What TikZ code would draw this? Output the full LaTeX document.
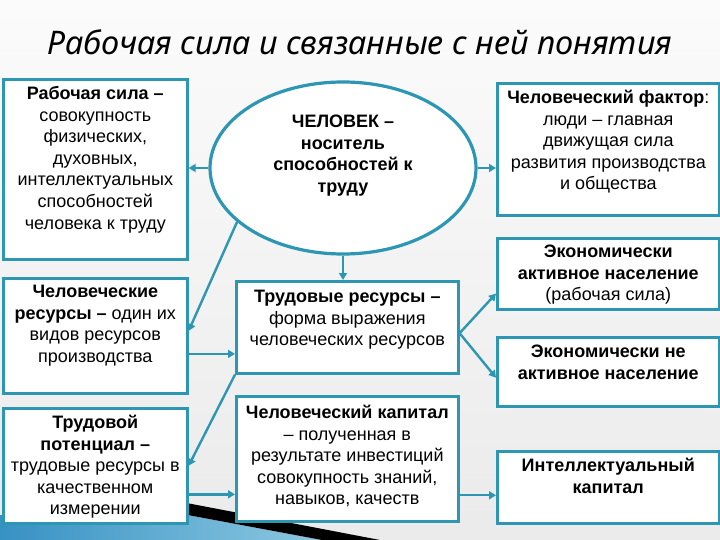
\documentclass[tikz,border=0pt]{standalone}
\usepackage{fontspec}
\setmainfont{Liberation Sans}
\newfontfamily\titlefont{Noto Sans}
\usepackage{tikz}
\usetikzlibrary{positioning,arrows.meta,shapes.geometric}

\definecolor{frame}{RGB}{45,150,178}
\definecolor{swoosh}{RGB}{55,145,195}
\definecolor{swooshlight}{RGB}{140,200,225}

\tikzset{
  box/.style={draw=frame, line width=2.6pt, fill=white, anchor=north west},
  txt/.style={align=center, inner sep=0pt, font=\fontsize{18}{21.6}\selectfont},
  arr/.style={draw=frame, line width=2.4pt, -{Triangle[length=7pt,width=8pt]}}
}

\begin{document}
\begin{tikzpicture}[x=1pt,y=-1pt]
    \useasboundingbox (0,0) rectangle (720,540);
    \shade[top color=white!97!gray, bottom color=gray!16] (0,0) rectangle (720,540);
    \shade[left color=swoosh, right color=swooshlight] (0,515) -- (187,515) -- (322,540) -- (0,540) -- cycle;
    \fill[black] (150,496) -- (380,540) -- (322,540) -- (150,508) -- cycle;

    \node[font=\titlefont\itshape\fontsize{32.5}{38}\selectfont, anchor=base] (title) at (360,55) {Рабочая сила и связанные с ней понятия};

    \node[box, minimum width=184pt, minimum height=180pt] (rsila) at (2,78) {};
    \node[box, minimum width=184pt, minimum height=115pt] (chres) at (2,277) {};
    \node[box, minimum width=184pt, minimum height=115pt] (tpot) at (2,407) {};
    \node[box, minimum width=222pt, minimum height=92pt] (trres) at (235,280) {};
    \node[box, minimum width=222pt, minimum height=125pt] (chcap) at (235,395) {};
    \node[box, minimum width=222pt, minimum height=132pt] (hfac) at (496,82) {};
    \node[box, minimum width=222pt, minimum height=71pt] (eapop) at (496,237) {};
    \node[box, minimum width=222pt, minimum height=69pt] (npop) at (496,336) {};
    \node[box, minimum width=222pt, minimum height=72pt] (intcap) at (496,450) {};
    \node[draw=frame, line width=3.2pt, fill=white, ellipse, minimum width=266pt, minimum height=172pt] (ell) at (343,168) {};

    \node[txt, below=8pt of rsila.north] (rsilat) {\textbf{Рабочая сила –}\\совокупность\\физических,\\духовных,\\интеллектуальных\\способностей\\человека к труду};
    \node[txt, below=8pt of chres.north] (chrest) {\textbf{Человеческие}\\\textbf{ресурсы –} один их\\видов ресурсов\\производства};
    \node[txt, below=8pt of tpot.north] (tpott) {\textbf{Трудовой}\\\textbf{потенциал –}\\трудовые ресурсы в\\качественном\\измерении};
    \node[txt, below=10pt of trres.north] (trrest) {\textbf{Трудовые ресурсы –}\\форма выражения\\человеческих ресурсов};
    \node[txt, below=10pt of chcap.north] (chcapt) {\textbf{Человеческий капитал}\\– полученная в\\результате инвестиций\\совокупность знаний,\\навыков, качеств};
    \node[txt, below=8pt of hfac.north] (hfact) {\textbf{Человеческий фактор}:\\люди – главная\\движущая сила\\развития производства\\и общества};
    \node[txt, below=8pt of eapop.north] (eapopt) {\textbf{Экономически}\\\textbf{активное население}\\(рабочая сила)};
    \node[txt, below=9pt of npop.north] (npopt) {\textbf{Экономически не}\\\textbf{активное население}};
    \node[txt, below=8pt of intcap.north] (intcapt) {\textbf{Интеллектуальный}\\\textbf{капитал}};
    \node[txt, font={\fontsize{18}{21.6}\selectfont\bfseries}] (ellt) at ([yshift=12.5pt]ell.center) {ЧЕЛОВЕК –\\носитель\\способностей к\\труду};

    \draw[arr] (ell.west) -- (ell.west -| rsila.east);
    \draw[arr] (ell.east) -- (ell.east -| hfac.west);
    \draw[arr] (ell.south) -- (ell.south |- trres.north);
    \draw[arr] (ell.207) -- (chres.3);
    \draw[arr] (chres.-11) -- (chres.-11 -| trres.west);
    \draw[arr] (trres.south west) -- (tpot.east);
    \draw[arr] (tpot.-17) -- (tpot.-17 -| chcap.west);
    \draw[arr] (chcap.-18) -- (chcap.-18 -| intcap.west);
    \draw[arr] (trres.-3) -- (eapop.190);
    \draw[arr] (trres.-3) -- (npop.183);
\end{tikzpicture}
\end{document}
